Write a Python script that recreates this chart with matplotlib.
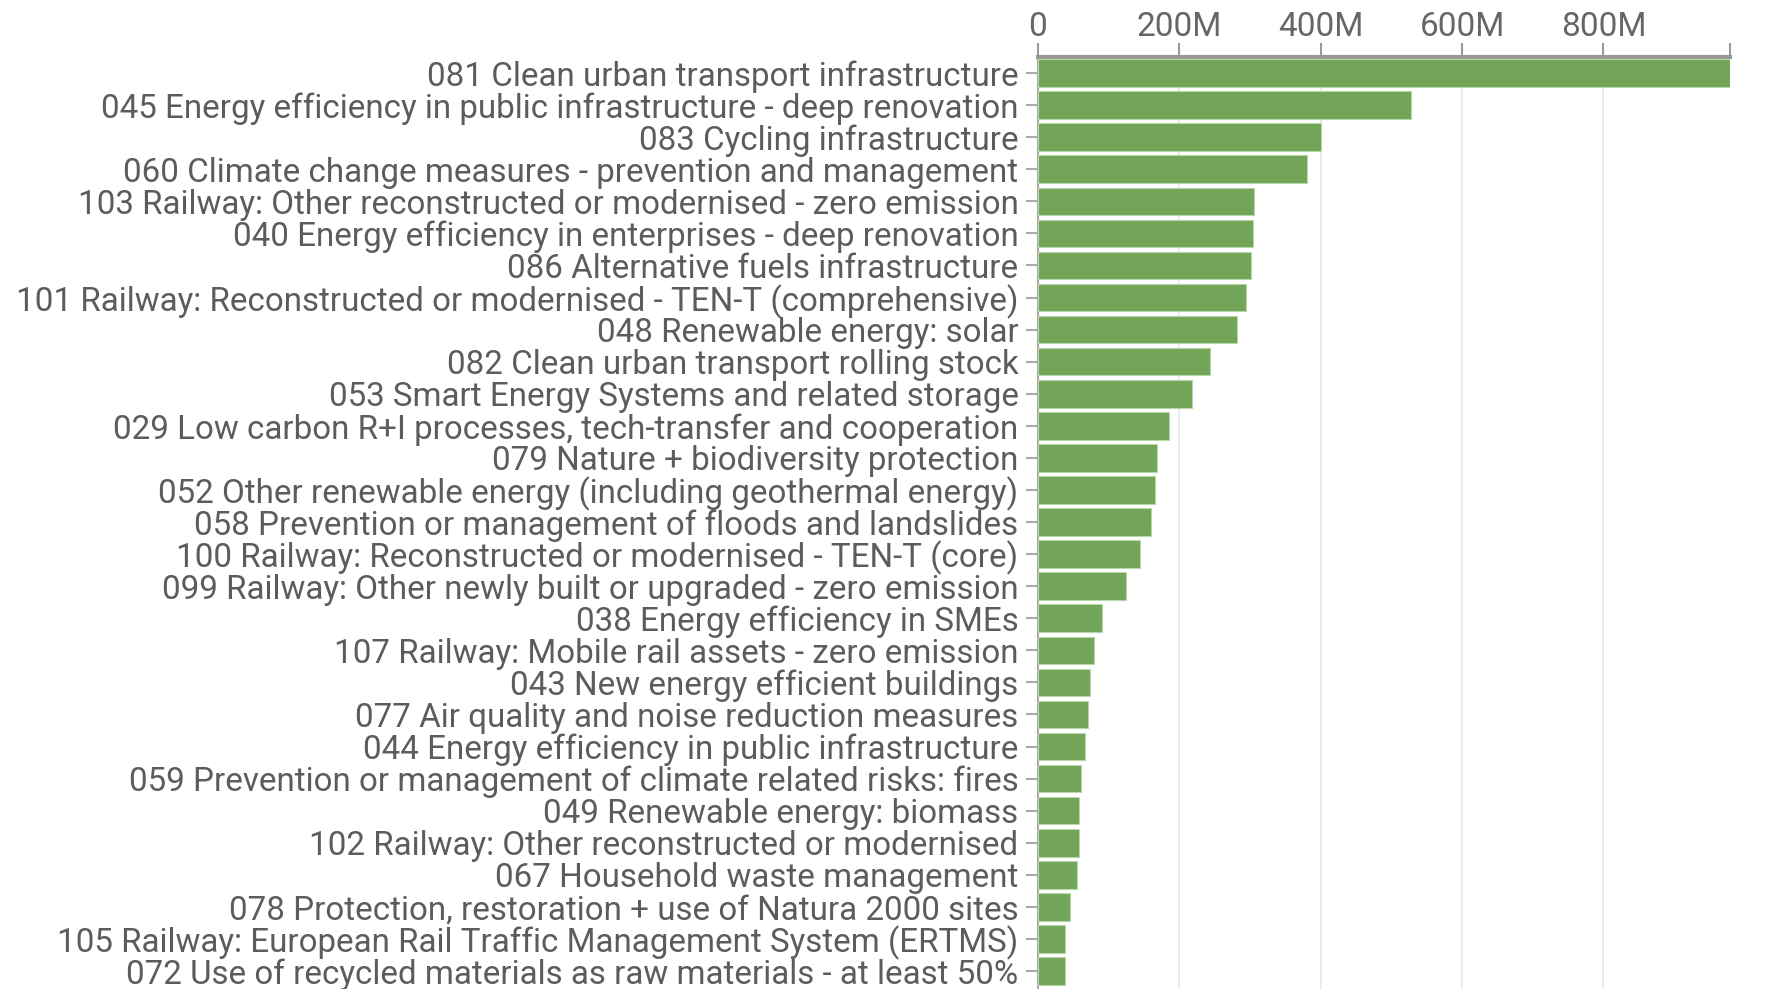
import matplotlib
matplotlib.use("Agg")
import matplotlib.pyplot as plt
from matplotlib.ticker import FuncFormatter

categories = [
    "081 Clean urban transport infrastructure",
    "045 Energy efficiency in public infrastructure - deep renovation",
    "083 Cycling infrastructure",
    "060 Climate change measures - prevention and management",
    "103 Railway: Other reconstructed or modernised - zero emission",
    "040 Energy efficiency in enterprises - deep renovation",
    "086 Alternative fuels infrastructure",
    "101 Railway: Reconstructed or modernised - TEN-T (comprehensive)",
    "048 Renewable energy: solar",
    "082 Clean urban transport rolling stock",
    "053 Smart Energy Systems and related storage",
    "029 Low carbon R+I processes, tech-transfer and cooperation",
    "079 Nature + biodiversity protection",
    "052 Other renewable energy (including geothermal energy)",
    "058 Prevention or management of floods and landslides",
    "100 Railway: Reconstructed or modernised - TEN-T (core)",
    "099 Railway: Other newly built or upgraded - zero emission",
    "038 Energy efficiency in SMEs",
    "107 Railway: Mobile rail assets - zero emission",
    "043 New energy efficient buildings",
    "077 Air quality and noise reduction measures",
    "044 Energy efficiency in public infrastructure",
    "059 Prevention or management of climate related risks: fires",
    "049 Renewable energy: biomass",
    "102 Railway: Other reconstructed or modernised",
    "067 Household waste management",
    "078 Protection, restoration + use of Natura 2000 sites",
    "105 Railway: European Rail Traffic Management System (ERTMS)",
    "072 Use of recycled materials as raw materials - at least 50%",
]
values_m = [980, 528, 401, 380, 306, 304, 301, 294, 281, 244, 218, 186, 168,
            165, 160, 144, 124, 90, 79.5, 74, 71.4, 66, 61, 58.6, 58.6, 55.8,
            45.9, 37.8, 37.8]
x_ticks = [0, 200, 400, 600, 800]

plt.rcParams['font.family'] = ['Roboto', 'DejaVu Sans']

W, H = 1781, 989
fig = plt.figure(figsize=(W / 100, H / 100), dpi=100)
ax = fig.add_axes([1038 / W, 0, (1730 - 1038) / W, 1 - 57 / H])

ypos = list(range(len(categories)))
ax.barh(ypos, values_m, height=0.86, color='#72a557', edgecolor='#b9d8aa',
        linewidth=0.8, zorder=3)

ax.set_xlim(0, 979)
ax.set_ylim(28.56, -0.5)

ax.xaxis.tick_top()
ax.set_xticks(x_ticks + [979])
ax.xaxis.set_major_formatter(FuncFormatter(
    lambda v, p: "0" if v == 0 else ("" if v > 900 else f"{int(v)}M")))
ax.tick_params(axis='x', which='major', direction='out', length=10, width=1.5,
               color='#999999', pad=0, labelsize=24, labelcolor='#666666')
for v in x_ticks[1:]:
    ax.axvline(v, color='#ebebeb', linewidth=1.5, zorder=0)

ax.set_yticks(ypos)
ax.set_yticklabels(categories)
ax.tick_params(axis='y', length=9, width=1.5, color='#aaaaaa', pad=5,
               labelsize=23.9, labelcolor='#5c5c5c')

for s in ['right', 'bottom']:
    ax.spines[s].set_visible(False)
ax.spines['top'].set_color('#999999')
ax.spines['top'].set_linewidth(3)
ax.spines['left'].set_color('#aaaaaa')
ax.spines['left'].set_linewidth(1.5)

fig.savefig('out.png', dpi=100)
